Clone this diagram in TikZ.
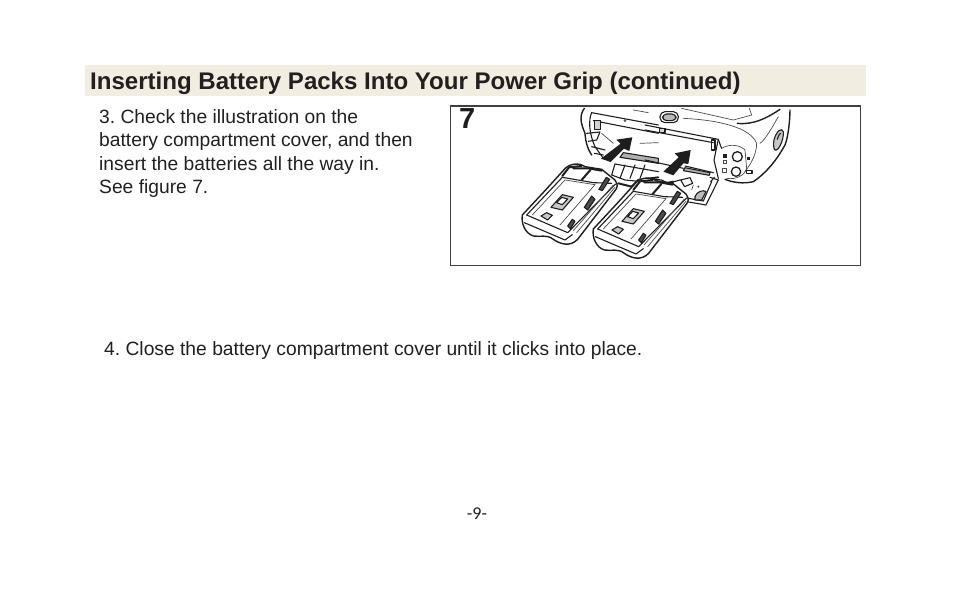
\documentclass[tikz,border=0pt]{standalone}
\usepackage{fontspec}
\setmainfont{Liberation Sans}
\newfontfamily\pagefont{Carlito}
\definecolor{ink}{HTML}{231F20}
\definecolor{headbg}{HTML}{F1EDE0}
\definecolor{sketch}{HTML}{1E1E1E}
\frenchspacing
\tikzset{
 bodytext/.style={anchor=base west,inner sep=0pt,text=ink,font=\fontsize{19.25}{23.5}\selectfont\frenchspacing},
 headtext/.style={anchor=base west,inner sep=0pt,text=ink,font=\fontsize{24.05}{28}\selectfont\bfseries\frenchspacing},
 ln/.style={draw=sketch,line width=1.1pt,line join=round,line cap=round},
 thin/.style={draw=sketch!80,line width=.7pt,line cap=round},
 thk/.style={draw=sketch,line width=2pt,line cap=round,line join=round},
 zoomA/.style={shift={(445,100)},x=.3333pt,y=-.3333pt},
 zoomB/.style={shift={(650,100)},x=.3333pt,y=-.3333pt},
 zoomC/.style={shift={(516,114)},x=.3333pt,y=-.3333pt},
}
\newcommand{\batteryshape}{%
 % outline
 \path[ln,line width=1.4pt,fill=white] (232,345) -- (300,272) -- (358,208) .. controls (372,192) and (400,186) .. (420,200)
   -- (470,208) -- (510,240) .. controls (520,255) and (518,262) .. (510,272) -- (398,418)
   .. controls (375,442) and (345,432) .. (325,418) .. controls (305,402) and (285,412) .. (265,408)
   .. controls (240,400) and (228,370) .. (232,345) -- cycle;
 % top face
 \draw[ln] (245,345) -- (352,232) -- (445,248) -- (500,250);
 \draw[ln] (245,345) -- (368,398) -- (512,252);
 \draw[ln] (238,368) -- (360,420) -- (382,404);
 \draw[thin] (262,345) -- (360,240) -- (450,254) -- (345,375);
 \draw[thin] (385,392) -- (505,255);
 \draw[thin] (395,398) -- (510,262);
 % label windows
 \draw[ln,fill=sketch!25] (318,322) -- (352,284) -- (385,292) -- (352,330) -- cycle;
 \draw[ln,fill=white] (335,308) -- (350,292) -- (368,297) -- (352,314) -- cycle;
 \draw[ln,fill=sketch!25] (288,348) -- (305,338) -- (322,346) -- (308,360) -- cycle;
 % side clips
 \draw[ln,fill=sketch!80] (418,322) -- (440,288) -- (450,298) -- (428,330) -- cycle;
 \draw[ln,fill=sketch!80] (368,378) -- (382,358) -- (390,364) -- (376,386) -- cycle;
 \draw[ln,fill=sketch!80] (462,268) -- (484,232) -- (494,238) -- (472,272) -- cycle;
 % top contacts
 \draw[thk] (352,228) -- (372,202) -- (410,198);
 \draw[thk] (410,240) -- (436,210);
 \draw[thk] (385,205) -- (430,205) -- (470,212);
}
\begin{document}
\begin{tikzpicture}[x=1pt,y=-1pt]
\useasboundingbox (0,0) rectangle (954,608);
\fill[headbg] (85,65) rectangle (866,96);
\node[headtext] (title) at (90,89) {Inserting Battery Packs Into Your Power Grip (continued)};
\node[bodytext] (s3a) at (99,123) {3. Check the illustration on the};
\node[bodytext] (s3b) at (99,146) {battery compartment cover, and then};
\node[bodytext] (s3c) at (99,170) {insert the batteries all the way in.};
\node[bodytext] (s3d) at (99,193) {See figure 7.};
\node[bodytext] (s4) at (104,355) {4. Close the battery compartment cover until it clicks into place.};
\node[anchor=base,inner sep=0pt,text=ink,font=\pagefont\fontsize{18}{20}\selectfont] (pg) at (477,519) {-9-};
% frame
\draw[draw=sketch!85,line width=1.8pt] (450.5,106) rectangle (860.5,265.5);
\node[anchor=base west,inner sep=0pt,text=sketch,font=\fontsize{29}{30}\selectfont\bfseries] (seven) at (459,128) {7};
% camera, left part
\begin{scope}[zoomA]
 \draw[ln,line width=1.4pt] (418,25) .. controls (400,50) and (410,75) .. (420,100) .. controls (422,130) and (430,150) .. (440,165);
 \draw[ln] (440,38) -- (640,75);
 \draw[ln] (440,38) .. controls (430,60) and (432,100) .. (450,140) -- (475,175);
 \draw[ln] (445,62) -- (640,100);
 \draw[ln,fill=sketch!20] (448,62) rectangle (466,88);
 \draw[ln] (425,100) -- (465,96) -- (455,120) -- (430,124);
 \draw[thin] (470,100) -- (505,130);
 \draw[ln] (440,140) -- (480,150);
 \draw[ln] (448,160) -- (475,165);
 \draw[thin] (585,130) -- (640,128);
 \draw[ln,fill=sketch!35] (535,158) -- (640,175) -- (640,190) -- (525,172) -- cycle;
 \draw[ln] (510,192) -- (640,215);
 \draw[ln] (510,192) -- (500,225) -- (540,240) -- (640,250);
 \foreach \q in {540,570,600} { \draw[ln] (\q,195) -- (\q-15,235); }
 \draw[thk] (520,250) -- (560,260) -- (580,240) -- (640,232);
 \fill[sketch] (468,176) -- (497,186) -- (537,146) -- (553,153) -- (562,112) -- (514,119) -- (527,131) -- cycle;
 \draw[thin] (565,30) -- (610,38);
 \draw[thin] (540,62) circle (3);
\end{scope}
% camera, right part
\begin{scope}[zoomB]
 \draw[ln] (-15,75) -- (205,118) -- (192,180) -- (205,235);
 \draw[ln] (-15,90) -- (190,128);
 \draw[ln] (205,118) .. controls (208,125) and (210,135) .. (215,145);
 \draw[ln,fill=sketch!20] (28,85) rectangle (45,97);
 \draw[ln,fill=white,rounded corners=5pt] (30,35) rectangle (85,68);
 \draw[ln,fill=sketch!30,rounded corners=4pt] (38,42) rectangle (78,62);
 \draw[thin] (95,25) -- (250,60) -- (305,45) -- (298,25);
 \draw[thin] (100,55) .. controls (200,60) and (300,80) .. (320,130) .. controls (320,165) and (300,195) .. (285,215);
 \draw[thin] (330,130) .. controls (345,120) and (365,85) .. (385,50);
 \draw[ln,line width=1.4pt] (262,70) .. controls (310,75) and (350,55) .. (390,28);
 \draw[ln,line width=1.4pt] (420,30) .. controls (420,60) and (415,110) .. (405,135) .. controls (375,190) and (340,225) .. (310,245) .. controls (280,252) and (250,248) .. (225,238);
 \draw[thin] (215,145) .. controls (240,130) and (270,135) .. (285,150) -- (290,205) .. controls (285,225) and (260,240) .. (230,235);
 \draw[ln,line width=1.3pt] (262,170) circle (15);
 \draw[ln,line width=1.3pt] (258,215) circle (14);
 \fill[sketch] (218,162) rectangle (230,175);
 \draw[thin] (219,180) rectangle (228,190);
 \draw[thin] (217,205) rectangle (228,216);
 \fill[sketch] (292,172) rectangle (301,179);
 \draw[ln] (290,211) rectangle (306,220);
 \draw[ln,fill=sketch!25] (372,120) .. controls (378,95) and (395,80) .. (400,95) .. controls (402,120) and (385,155) .. (375,150) .. controls (370,145) and (370,130) .. (372,120) -- cycle;
 \draw[ln] (382,118) .. controls (386,105) and (390,100) .. (392,100);
 \draw[ln] (185,120) rectangle (195,150);
 \draw[ln] (-15,180) -- (100,205) (105,198) -- (190,218);
 \draw[ln,fill=sketch!35] (105,203) -- (180,218) -- (178,226) -- (100,212) -- cycle;
 \draw[ln] (180,232) -- (205,240) -- (168,315) -- (110,305);
 \draw[ln] (185,245) -- (160,303) -- (115,295);
 \draw[ln] (193,232) -- (182,245);
 \draw[ln,fill=white] (92,240) -- (120,233) -- (128,250) -- (104,260) -- cycle;
 \draw[ln,fill=sketch!30] (135,290) .. controls (140,275) and (160,268) .. (168,275) -- (155,300) -- (135,300) -- cycle;
 \draw[thin] (130,255) -- (125,270) (145,260) circle (2);
 \fill[sketch] (40,215) -- (70,226) -- (100,190) -- (115,192) -- (122,150) -- (74,160) -- (86,172) -- cycle;
 \draw[ln] (-15,235) -- (35,240) -- (55,250) -- (90,240);
 \draw[thk] (45,250) -- (70,245);
\end{scope}
% batteries
\begin{scope}[zoomC]\batteryshape\end{scope}
\begin{scope}[zoomA]\batteryshape\end{scope}
\end{tikzpicture}
\end{document}
